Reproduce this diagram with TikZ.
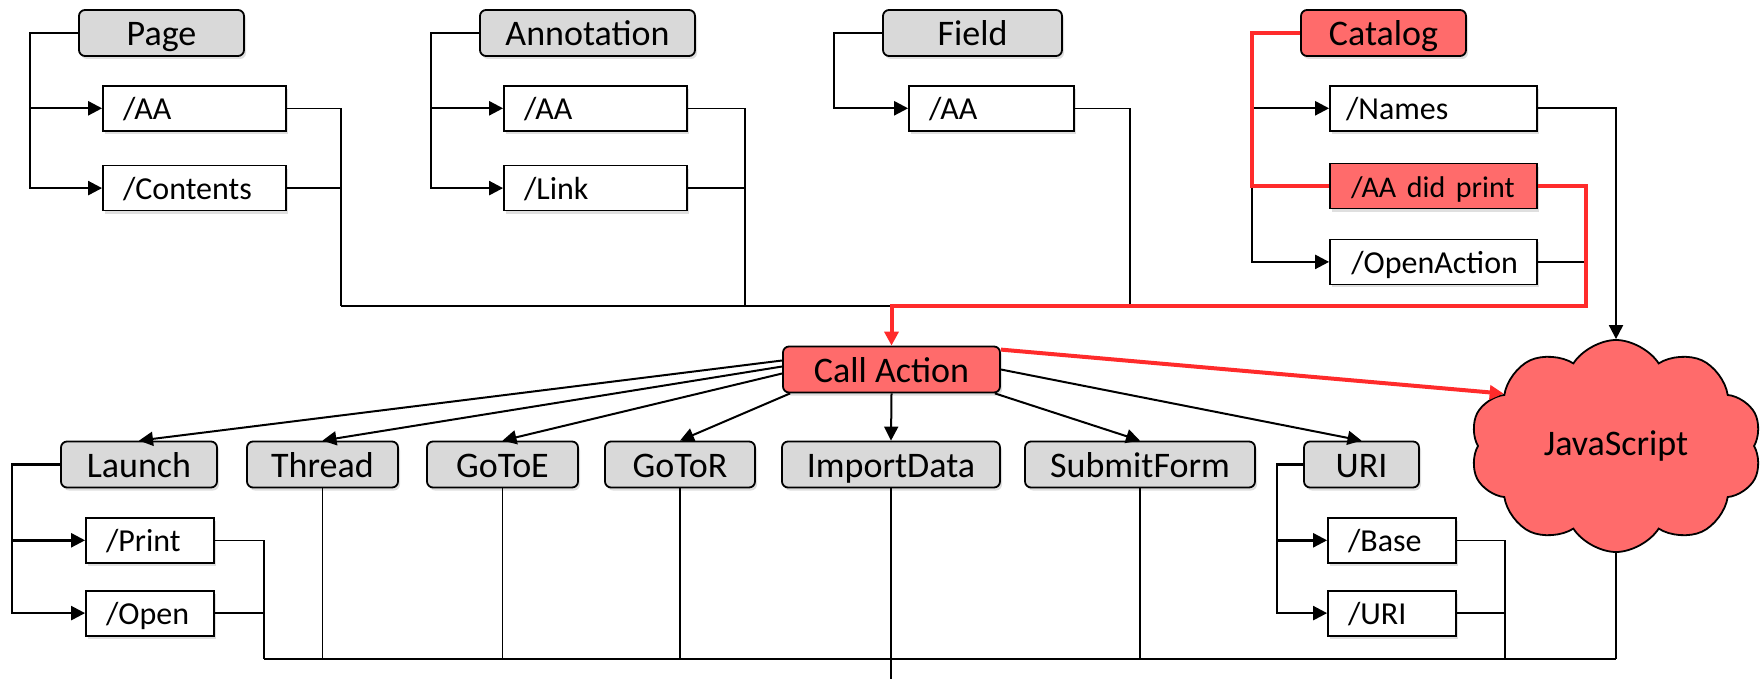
\documentclass[tikz,border=0pt]{standalone}
\usepackage{fontspec}
\setmainfont{Carlito}
\usetikzlibrary{positioning, arrows.meta, calc, shapes.symbols, shadows}

\definecolor{boxgrey}{HTML}{D9D9D9}
\definecolor{hotfill}{HTML}{FF6B6B}
\definecolor{hotline}{HTML}{FF2B2B}

\tikzset{
  objbox/.style={draw, line width=0.9pt, rounded corners=3pt, fill=boxgrey,
    minimum height=23pt, inner sep=0pt, text height=15.5pt, text depth=3pt,
    font=\fontsize{18}{21}\selectfont,
    drop shadow={shadow xshift=1pt, shadow yshift=-1.5pt, opacity=0.25}},
  keybox/.style={draw, line width=0.9pt, fill=white, minimum height=22.5pt,
    inner xsep=10pt, inner ysep=0pt, text width=#1, align=left,
    text height=14pt, text depth=2.5pt, font=\fontsize{16}{19}\selectfont,
    drop shadow={shadow xshift=1pt, shadow yshift=-1.5pt, opacity=0.25}},
  tree/.style={line width=1.2pt, ->},
  link/.style={line width=0.7pt},
  bus/.style={line width=1pt},
  fan/.style={line width=1pt, ->},
  hot/.style={draw=hotline, line width=2pt}
}

\begin{document}
\begin{tikzpicture}[x=0.5pt, y=-0.5pt, >={Triangle[length=7pt,width=7pt]}]
\useasboundingbox (0,0) rectangle (1764,679);

% objects with their keys
\node[objbox, minimum width=82.5pt] (page) at (161.5,33) {Page};
\node[keybox=71.5pt] (pageaa) [below right=14pt and 12pt of page.south west] {/AA};
\node[keybox=71.5pt] (pagecont) [below=16.5pt of pageaa] {/Contents};

\node[objbox, minimum width=107.5pt] (annot) at (587.5,33) {Annotation};
\node[keybox=71.5pt] (annotaa) [below right=14pt and 12pt of annot.south west] {/AA};
\node[keybox=71.5pt] (link) [below=16.5pt of annotaa] {/Link};

\node[objbox, minimum width=89.5pt] (field) at (972.5,33) {Field};
\node[keybox=62.5pt] (fieldaa) [below right=14pt and 13pt of field.south west] {/AA};

\node[objbox, fill=hotfill, minimum width=82.5pt] (catalog) at (1383.5,33) {Catalog};
\node[keybox=87.5pt, inner xsep=8pt] (names) [below right=14pt and 14.5pt of catalog.south west] {/Names};
\node[keybox=87.5pt, inner xsep=8pt, fill=hotfill] (catalogaa) [below=15.5pt of names] {\fontsize{15}{18}\selectfont\,/AA did print};
\node[keybox=87.5pt, inner xsep=8pt] (openaction) [below=14.5pt of catalogaa] {\,/OpenAction};

\node[objbox, fill=hotfill, minimum width=108.5pt] (call) at (891.5,369.5) {Call Action};
\node[cloud, draw, line width=0.9pt, fill=hotfill, cloud puffs=10, cloud puff arc=115,
  cloud ignores aspect, minimum width=146pt, minimum height=106pt, inner sep=0pt,
  font=\fontsize{18}{21}\selectfont] (js) at (1616,446) {JavaScript};

% actions
\node[objbox, minimum width=78pt] (launch) at (139,464.5) {Launch};
\node[keybox=44pt] (print) [below right=14.25pt and 12.5pt of launch.south west] {/Print};
\node[keybox=44pt] (open) [below=13pt of print] {/Open};
\node[objbox, minimum width=75.5pt] (thread) at (322.5,464.5) {Thread};
\node[objbox, minimum width=75.5pt] (gotoe) at (502.5,464.5) {GoToE};
\node[objbox, minimum width=75pt] (gotor) at (680,464.5) {GoToR};
\node[objbox, minimum width=109pt] (importdata) at (891,464.5) {ImportData};
\node[objbox, minimum width=115pt] (submitform) at (1140,464.5) {SubmitForm};
\node[objbox, minimum width=57.5pt] (uri) at (1361.5,464.5) {URI};
\node[keybox=44pt] (base) [below right=14.25pt and 12pt of uri.south west] {/Base};
\node[keybox=44pt] (urikey) [below=13pt of base] {/URI};

\coordinate (topbus) at (0,306);
\coordinate (botbus) at (0,659);
\coordinate (exit) at (891,679);
\coordinate (catbar) at ([xshift=-24pt]catalog.west);
\coordinate (hotout) at ([xshift=24pt]catalogaa.east);

% brackets
\draw[tree] (page.west) -- ++(-24pt,0) coordinate (pagebar) |- (pagecont.west);
\draw[tree] (pagebar |- pageaa.west) -- (pageaa.west);
\draw[tree] (annot.west) -- ++(-24pt,0) coordinate (annotbar) |- (link.west);
\draw[tree] (annotbar |- annotaa.west) -- (annotaa.west);
\draw[tree] (field.west) -- ++(-24pt,0) |- (fieldaa.west);
\draw[tree] (catbar |- catalogaa.west) |- (openaction.west);
\draw[tree] (catbar |- names.west) -- (names.west);
\draw[tree] (launch.west) -- ++(-24pt,0) coordinate (launchbar) |- (open.west);
\draw[tree] (launchbar |- print.west) -- (print.west);
\draw[tree] (uri.west) -- ++(-13pt,0) coordinate (uribar) |- (urikey.west);
\draw[tree] (uribar |- base.west) -- (base.west);

% into Call Action
\draw[link] (pageaa.east) -- ++(27pt,0) coordinate (pageout) -- (pageout |- topbus);
\draw[link] (pagecont.east) -- (pagecont.east -| pageout);
\draw[link] (annotaa.east) -- ++(28.5pt,0) coordinate (annotout) -- (annotout |- topbus);
\draw[link] (link.east) -- (link.east -| annotout);
\draw[link] (fieldaa.east) -- ++(27.5pt,0) coordinate (fieldout) -- (fieldout |- topbus);
\draw[bus] (pageout |- topbus) -- (fieldout |- topbus);
\draw[link] (openaction.east) -- (openaction.east -| hotout);
\draw[tree, line width=1pt] (names.east) -| (js.north);

% the print path
\draw[hot] (catalog.west) -- (catbar) |- (catalogaa.west);
\draw[hot, ->] (catalogaa.east) -- (hotout) |- (call.north |- topbus) -- (call.north);
\draw[hot, ->] ([yshift=-2pt]call.north east) -- (js.155);

\path[fan]
  ([yshift=4.5pt]call.west) edge (launch.north)
  ([yshift=1.5pt]call.west) edge (thread.north)
  ([yshift=-2pt]call.west) edge (gotoe.north)
  ([xshift=4pt]call.south west) edge (gotor.north)
  (call.south) edge (importdata.north)
  ([xshift=-3pt]call.south east) edge (submitform.north)
  (call.east) edge (uri.north);

% out of the actions
\draw[link] (print.east) -- ++(24.5pt,0) coordinate (launchout) -- (launchout |- botbus);
\draw[link] (open.east) -- (open.east -| launchout);
\draw[link] (base.east) -- ++(24pt,0) coordinate (uriout) -- (uriout |- botbus);
\draw[link] (urikey.east) -- (urikey.east -| uriout);
\foreach \act in {thread, gotoe, gotor, submitform}
  \draw[link] (\act.south) -- (\act.south |- botbus);
\draw[link] (js.south) -- (js.south |- botbus);
\draw[bus] (launchout |- botbus) -- (js.south |- botbus);
\draw[bus] (importdata.south) -- (importdata.south |- exit);
\end{tikzpicture}
\end{document}
